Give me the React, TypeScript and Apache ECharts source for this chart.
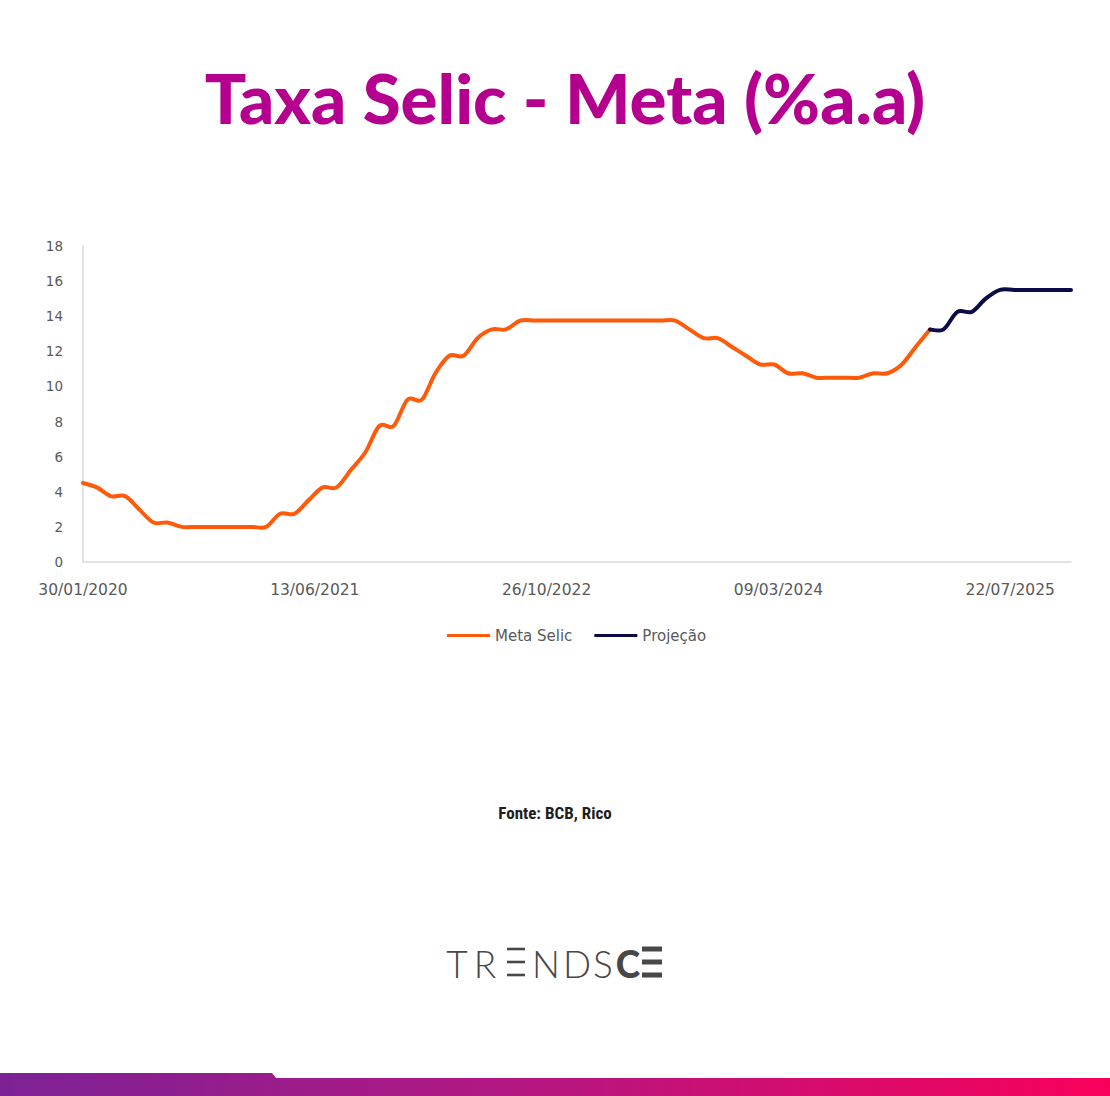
import React, { useEffect, useRef } from "react";
import * as echarts from "echarts";

// ---- data ----
const axisStart = "2020-01-30";
const tickIntervalDays = 500;

const selicFirstMonth = "2020-01";
const selicValues = [
  // 2020
  4.5, 4.25, 3.75, 3.75, 3.0, 2.25, 2.25, 2.0, 2.0, 2.0, 2.0, 2.0,
  // 2021
  2.0, 2.0, 2.75, 2.75, 3.5, 4.25, 4.25, 5.25, 6.25, 7.75, 7.75, 9.25,
  // 2022
  9.25, 10.75, 11.75, 11.75, 12.75, 13.25, 13.25, 13.75, 13.75, 13.75, 13.75, 13.75,
  // 2023
  13.75, 13.75, 13.75, 13.75, 13.75, 13.75, 13.75, 13.25, 12.75, 12.75, 12.25, 11.75,
  // 2024
  11.25, 11.25, 10.75, 10.75, 10.5, 10.5, 10.5, 10.5, 10.75, 10.75, 11.25, 12.25,
  // 2025
  13.25,
];

const projFirstMonth = "2025-01";
const projValues = [13.25, 13.25, 14.25, 14.25, 15.0, 15.5, 15.5, 15.5, 15.5, 15.5, 15.5];

const yTicks = { min: 0, max: 18, interval: 2 };

const seriesNames = ["Meta Selic", "Projeção"];
const seriesColors = ["#FF5A0A", "#0B0B48"];

// ---- helpers ----
const DAY = 86400000;
const parseISO = (s: string) => {
  const [y, m, d] = s.split("-").map(Number);
  return Date.UTC(y, m - 1, d);
};
const origin = parseISO(axisStart);

function monthlyPoints(firstMonth: string, values: number[]) {
  const [y0, m0] = firstMonth.split("-").map(Number);
  return values.map((v, i) => {
    const y = y0 + Math.floor((m0 - 1 + i) / 12);
    const m = (m0 - 1 + i) % 12;
    const last = new Date(Date.UTC(y, m + 1, 0)).getUTCDate();
    const day = Math.min(30, last);
    const t = Date.UTC(y, m, day);
    return [Math.round((t - origin) / DAY), v];
  });
}

const pad = (n: number) => (n < 10 ? "0" + n : "" + n);
function fmtDay(v: number) {
  const d = new Date(origin + v * DAY);
  return `${pad(d.getUTCDate())}/${pad(d.getUTCMonth() + 1)}/${d.getUTCFullYear()}`;
}

const selicData = monthlyPoints(selicFirstMonth, selicValues);
const projData = monthlyPoints(projFirstMonth, projValues);
const maxDay = projData[projData.length - 1][0];

const axisFont = "'DejaVu Sans', sans-serif";

// Excel-like smoothed line (Catmull-Rom bezier) drawn through api.coord
function smoothRender(data: number[][], color: string) {
  return (params: any, api: any) => {
    if (params.dataIndex !== 0) return null;
    const p = data.map((d) => api.coord(d));
    const n = p.length;
    let d = `M${p[0][0]},${p[0][1]}`;
    for (let i = 0; i < n - 1; i++) {
      const p0 = p[Math.max(0, i - 1)];
      const p1 = p[i];
      const p2 = p[i + 1];
      const p3 = p[Math.min(n - 1, i + 2)];
      const c1x = p1[0] + (p2[0] - p0[0]) / 6;
      const c1y = p1[1] + (p2[1] - p0[1]) / 6;
      const c2x = p2[0] - (p3[0] - p1[0]) / 6;
      const c2y = p2[1] - (p3[1] - p1[1]) / 6;
      d += ` C${c1x},${c1y} ${c2x},${c2y} ${p2[0]},${p2[1]}`;
    }
    return {
      type: "path",
      shape: { pathData: d },
      style: { stroke: color, lineWidth: 4, fill: "none", lineJoin: "round", lineCap: "round" },
    };
  };
}

export default function App() {
  const ref = useRef<HTMLDivElement>(null);
  useEffect(() => {
    if (!ref.current) return;
    const chart = echarts.init(ref.current, undefined, { renderer: "svg" });

    const logoText = (ch: string, x: number, bold: boolean) => ({
      type: "text",
      style: {
        text: ch,
        x,
        y: 963,
        textAlign: "center",
        textVerticalAlign: "middle",
        fill: "#474747",
        font: `${bold ? 900 : 300} 37px Lato, 'Noto Sans', sans-serif`,
      },
    });
    const eBars = (x: number, w: number, h: number) =>
      [949, 962, 975].map((y) => ({
        type: "rect",
        shape: { x, y: y - h / 2, width: w, height: h },
        style: { fill: "#474747" },
      }));

    const option: any = {
      animation: false,
      backgroundColor: "#ffffff",
      grid: { left: 83, right: 39, top: 246, bottom: 534 },
      xAxis: {
        type: "value",
        min: 0,
        max: maxDay,
        interval: tickIntervalDays,
        axisLine: { show: true, lineStyle: { color: "#D9D9D9", width: 1.5 } },
        axisTick: { show: false },
        splitLine: { show: false },
        axisLabel: {
          formatter: (v: number) => fmtDay(v),
          color: "#595959",
          fontSize: 15.5,
          margin: 20,
          fontFamily: axisFont,
          showMaxLabel: false,
        },
      },
      yAxis: {
        type: "value",
        min: yTicks.min,
        max: yTicks.max,
        interval: yTicks.interval,
        axisLine: { show: true, lineStyle: { color: "#D9D9D9", width: 1.5 } },
        axisTick: { show: false },
        splitLine: { show: false },
        axisLabel: { color: "#595959", fontSize: 13.5, margin: 20, fontFamily: axisFont },
      },
      legend: {
        left: 442,
        top: 623,
        itemWidth: 43,
        itemHeight: 3,
        itemGap: 22,
        icon: "rect",
        textStyle: { color: "#595959", fontSize: 15, fontFamily: axisFont },
        data: seriesNames,
      },
      series: [
        {
          name: seriesNames[0],
          type: "custom",
          data: selicData,
          encode: { x: 0, y: 1 },
          renderItem: smoothRender(selicData, seriesColors[0]),
          itemStyle: { color: seriesColors[0] },
        },
        {
          name: seriesNames[1],
          type: "custom",
          data: projData,
          encode: { x: 0, y: 1 },
          renderItem: smoothRender(projData, seriesColors[1]),
          itemStyle: { color: seriesColors[1] },
        },
      ],
      graphic: [
        {
          type: "text",
          style: {
            text: "Taxa Selic - Meta (%a.a)",
            x: 565,
            y: 97,
            textAlign: "center",
            textVerticalAlign: "middle",
            fill: "#B5008F",
            font: "900 69px Lato, 'Open Sans', sans-serif",
          },
        },
        {
          type: "text",
          style: {
            text: "Fonte: BCB, Rico",
            x: 555,
            y: 813,
            textAlign: "center",
            textVerticalAlign: "middle",
            fill: "#1E1E1E",
            font: "bold 17px 'Liberation Sans Narrow', 'Roboto Condensed', sans-serif",
          },
        },
        logoText("T", 457, false),
        logoText("R", 485, false),
        ...eBars(507, 18, 2.6),
        logoText("N", 546, false),
        logoText("D", 577, false),
        logoText("S", 603, false),
        logoText("C", 628, true),
        ...eBars(642, 20, 5),
        {
          type: "polygon",
          shape: {
            points: [
              [0, 1073],
              [272, 1073],
              [276, 1078],
              [1110, 1078],
              [1110, 1096],
              [0, 1096],
            ],
          },
          style: {
            fill: new echarts.graphic.LinearGradient(0, 0, 1, 0, [
              { offset: 0, color: "#7C2296" },
              { offset: 0.5, color: "#B8167F" },
              { offset: 1, color: "#F8005A" },
            ]),
          },
        },
      ],
    };
    chart.setOption(option);
    return () => chart.dispose();
  }, []);
  return (
    <div
      ref={ref}
      style={{ position: "absolute", left: 0, top: 0, width: 1110, height: 1096, background: "#fff" }}
    />
  );
}
